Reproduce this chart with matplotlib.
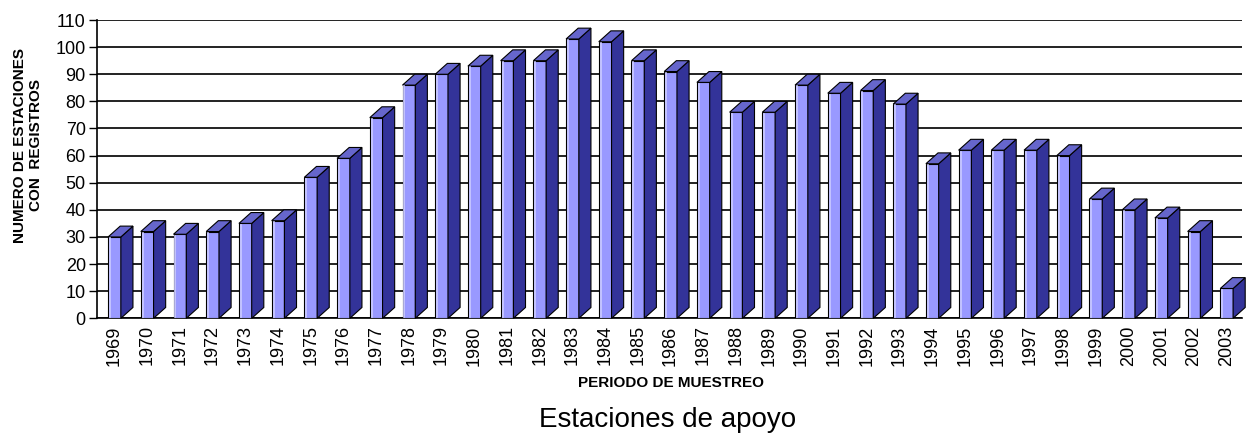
import matplotlib.pyplot as plt
from matplotlib.patches import Polygon

# datos
anios = ['1969', '1970', '1971', '1972', '1973', '1974', '1975', '1976', '1977',
         '1978', '1979', '1980', '1981', '1982', '1983', '1984', '1985', '1986',
         '1987', '1988', '1989', '1990', '1991', '1992', '1993', '1994', '1995',
         '1996', '1997', '1998', '1999', '2000', '2001', '2002', '2003']
estaciones = [30, 32, 31, 32, 35, 36, 52, 59, 74, 86, 90, 93, 95, 95, 103, 102,
              95, 91, 87, 76, 76, 86, 83, 84, 79, 57, 62, 62, 62, 60, 44, 40,
              37, 32, 11]

# colores de las caras
c_frente = '#9999FF'
c_lado = '#333399'
c_arriba = '#6666CC'

w = 0.39    # ancho de la cara frontal
dx = 0.37   # profundidad horizontal
dy = 4.0    # profundidad vertical (en unidades del eje)

plt.rcParams['font.family'] = ['Liberation Sans', 'DejaVu Sans']

fig = plt.figure(figsize=(12.48, 4.41), dpi=100)
ax = fig.add_axes([0.0777, 0.2782, 0.9173, 0.6764])

x = list(range(len(anios)))
ax.bar(x, estaciones, width=w, color=c_frente, edgecolor='black',
       linewidth=0.8, zorder=3)
for xi, v in zip(x, estaciones):
    der = xi + w / 2
    izq = xi - w / 2
    lado = Polygon([(der, 0), (der + dx, dy), (der + dx, v + dy), (der, v)],
                   closed=True, facecolor=c_lado, edgecolor='black',
                   linewidth=0.8, zorder=3, clip_on=False)
    arriba = Polygon([(izq, v), (der, v), (der + dx, v + dy), (izq + dx, v + dy)],
                     closed=True, facecolor=c_arriba, edgecolor='black',
                     linewidth=0.8, zorder=3, clip_on=False)
    ax.add_patch(lado)
    ax.add_patch(arriba)
    # brillo en el borde izquierdo
    ax.plot([izq + 0.06, izq + 0.06], [0.5, v - 0.5], color='#CCCCFF',
            lw=1.2, zorder=4)

ax.set_xlim(-0.535, 34.46)
ax.set_ylim(0, 110)
ax.set_yticks(range(0, 111, 10))
ax.set_xticks(x)
ax.set_xticklabels(anios, rotation=90, fontsize=13)
ax.tick_params(axis='y', labelsize=13, length=6, width=1, direction='out', pad=2)
ax.tick_params(axis='x', length=0, pad=5)

ax.yaxis.grid(True, color='#222222', linewidth=1.4)
ax.set_axisbelow(True)
for s in ['top', 'right']:
    ax.spines[s].set_visible(False)
ax.spines['left'].set_linewidth(1.2)
ax.spines['bottom'].set_linewidth(1.2)

fig.text(0.0224, 0.671, 'NUMERO DE ESTACIONES\nCON  REGISTROS', fontsize=11,
         fontweight='bold', rotation=90, ha='center', va='center',
         linespacing=1.25)
fig.text(0.538, 0.131, 'PERIODO DE MUESTREO', fontsize=11, fontweight='bold',
         ha='center', va='center')
fig.text(0.535, 0.048, 'Estaciones de apoyo', fontsize=20, ha='center',
         va='center')

plt.savefig('out.png', dpi=100)
